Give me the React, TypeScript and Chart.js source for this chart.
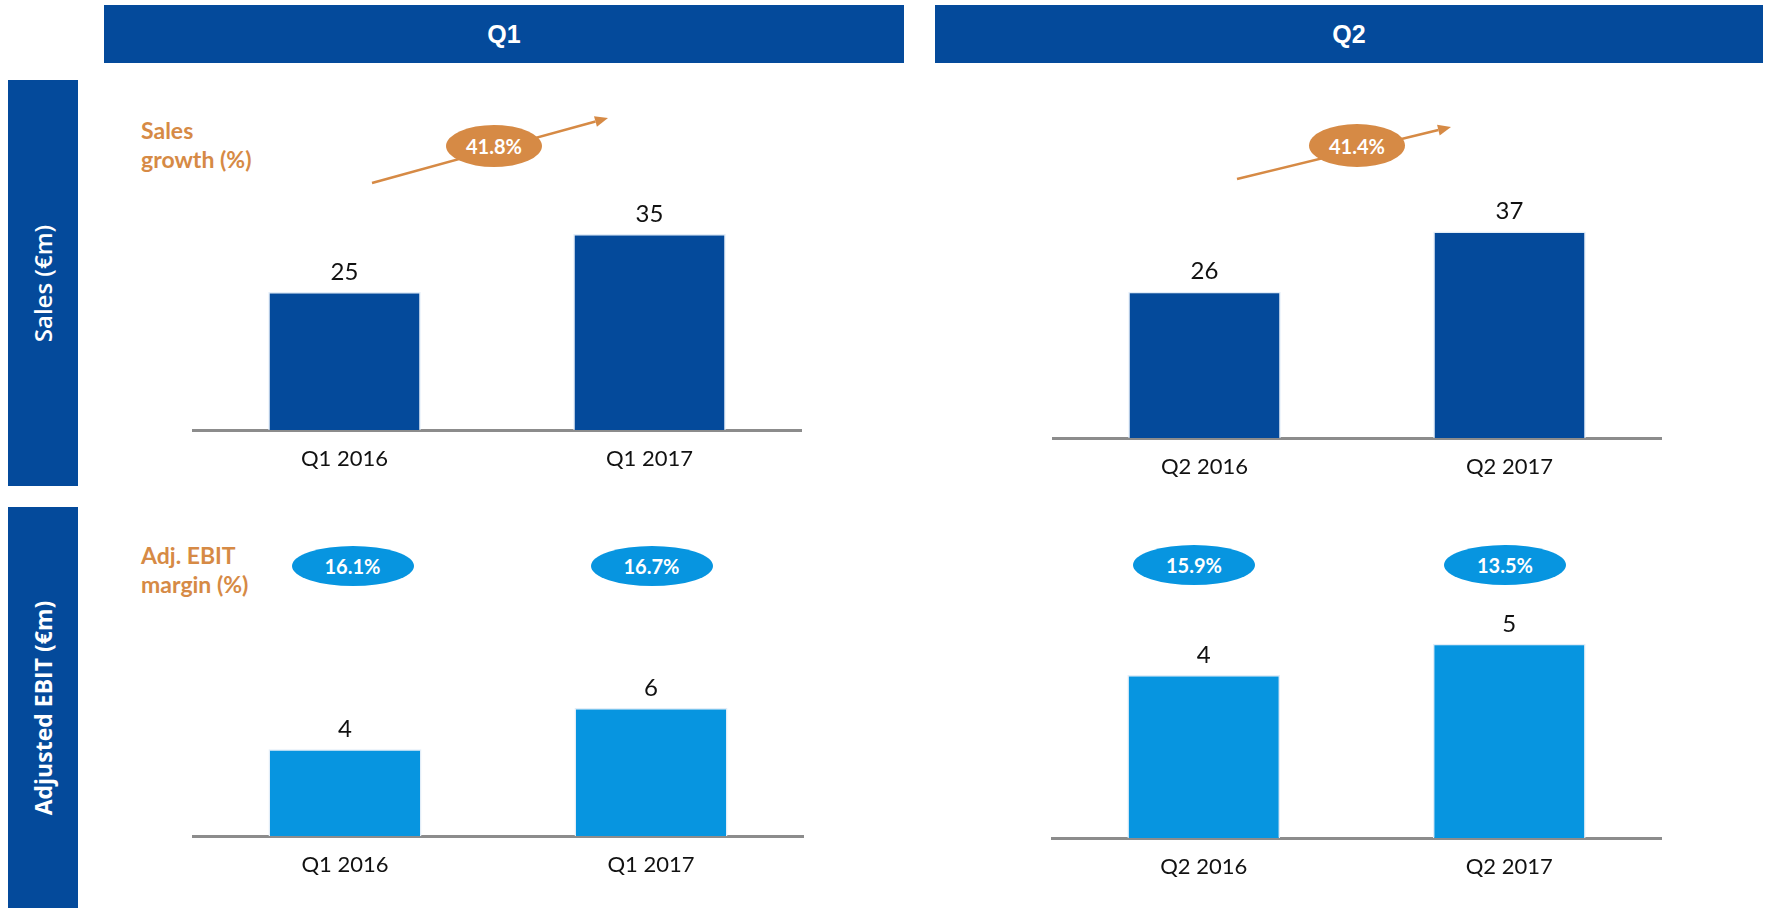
import React, { useEffect, useRef } from 'react';
import { Chart, registerables } from 'chart.js';
Chart.register(...registerables);

// ---- data ----
const quarterTitles = ['Q1', 'Q2'];
const rowTitles = ['Sales (€m)', 'Adjusted EBIT (€m)'];
const q1Categories = ['Q1 2016', 'Q1 2017'];
const q2Categories = ['Q2 2016', 'Q2 2017'];
const salesQ1 = [24.8, 35.2];
const salesQ2 = [26.2, 37.0];
const ebitQ1 = [4.0, 5.9];
const ebitQ2 = [4.2, 5.0];
const salesGrowth = ['41.8%', '41.4%'];
const ebitMarginQ1 = ['16.1%', '16.7%'];
const ebitMarginQ2 = ['15.9%', '13.5%'];
const salesNote = ['Sales', 'growth (%)'];
const ebitNote = ['Adj. EBIT', 'margin (%)'];

const DARK = '#044A9B';
const LIGHT = '#0795E0';
const ORANGE = '#D68A45';

const valueLabels = {
  id: 'valueLabels',
  afterDatasetsDraw(chart: any) {
    const ctx = chart.ctx;
    const meta = chart.getDatasetMeta(0);
    const data = chart.data.datasets[0].data as number[];
    ctx.save();
    ctx.font = '24px Lato';
    ctx.fillStyle = '#111111';
    ctx.textAlign = 'center';
    ctx.textBaseline = 'middle';
    meta.data.forEach((bar: any, i: number) => {
      ctx.fillText(String(Math.round(data[i])), bar.x, bar.y - 20);
    });
    ctx.restore();
  },
};

type PanelProps = {
  labels: string[];
  values: number[];
  color: string;
  yMax: number;
  left: number;
  top: number;
  width: number;
  areaHeight: number;
};

const AXIS_H = 50;

function BarPanel({ labels, values, color, yMax, left, top, width, areaHeight }: PanelProps) {
  const ref = useRef<HTMLCanvasElement | null>(null);
  useEffect(() => {
    if (!ref.current) return;
    const chart = new Chart(ref.current, {
      type: 'bar',
      data: {
        labels,
        datasets: [
          {
            data: values,
            backgroundColor: color,
            borderColor: '#E2EDF8',
            borderWidth: 1.5,
            borderSkipped: 'bottom',
            barPercentage: 0.5,
            categoryPercentage: 1,
          },
        ],
      },
      options: {
        responsive: false,
        maintainAspectRatio: false,
        animation: false,
        layout: { padding: 0 },
        plugins: { legend: { display: false }, tooltip: { enabled: false } },
        scales: {
          x: {
            grid: { display: false, drawTicks: false },
            border: { display: true, color: '#8C8C8C', width: 3 },
            ticks: { color: '#111111', font: { family: 'Lato', size: 22 }, padding: 16 },
            afterFit: (scale: any) => {
              scale.height = AXIS_H;
            },
          },
          y: { display: false, min: 0, max: yMax },
        },
      },
      plugins: [valueLabels],
    });
    return () => chart.destroy();
  }, []);
  return (
    <canvas
      ref={ref}
      width={width}
      height={areaHeight + AXIS_H}
      style={{ position: 'absolute', left, top, width, height: areaHeight + AXIS_H }}
    />
  );
}

function Ellipse({ cx, cy, w, h, color, text }: { cx: number; cy: number; w: number; h: number; color: string; text: string }) {
  return (
    <div
      style={{
        position: 'absolute',
        left: cx - w / 2,
        top: cy - h / 2,
        width: w,
        height: h,
        borderRadius: '50%',
        background: color,
        color: '#fff',
        display: 'flex',
        alignItems: 'center',
        justifyContent: 'center',
        font: 'bold 20px Lato',
      }}
    >
      {text}
    </div>
  );
}

function Arrow({ x1, y1, x2, y2 }: { x1: number; y1: number; x2: number; y2: number }) {
  const ang = Math.atan2(y2 - y1, x2 - x1);
  const L = 13;
  const W = 5.5;
  const bx = x2 - L * Math.cos(ang);
  const by = y2 - L * Math.sin(ang);
  const px = -Math.sin(ang) * W;
  const py = Math.cos(ang) * W;
  return (
    <g>
      <line x1={x1} y1={y1} x2={bx} y2={by} stroke={ORANGE} strokeWidth={2.5} />
      <polygon points={`${x2},${y2} ${bx + px},${by + py} ${bx - px},${by - py}`} fill={ORANGE} />
    </g>
  );
}

function Note({ lines, left, top }: { lines: string[]; left: number; top: number }) {
  return (
    <div
      style={{
        position: 'absolute',
        left,
        top,
        color: ORANGE,
        font: 'bold 23px Lato',
        lineHeight: '29px',
        whiteSpace: 'nowrap',
      }}
    >
      {lines.map((l, i) => (
        <div key={i}>{l}</div>
      ))}
    </div>
  );
}

function SideTitle({ text, top, height, size, weight }: { text: string; top: number; height: number; size: number; weight: number }) {
  return (
    <div
      style={{
        position: 'absolute',
        left: 8,
        top,
        width: 70,
        height,
        background: DARK,
        display: 'flex',
        alignItems: 'center',
        justifyContent: 'center',
      }}
    >
      <span
        style={{
          transform: 'rotate(-90deg)',
          whiteSpace: 'nowrap',
          color: '#fff',
          fontFamily: '"Open Sans", sans-serif',
          fontWeight: weight,
          fontSize: size,
        }}
      >
        {text}
      </span>
    </div>
  );
}

function Header({ text, left, width }: { text: string; left: number; width: number }) {
  return (
    <div
      style={{
        position: 'absolute',
        left,
        top: 5,
        width,
        height: 58,
        background: DARK,
        color: '#fff',
        display: 'flex',
        alignItems: 'center',
        justifyContent: 'center',
        font: 'bold 25px "Liberation Sans"',
      }}
    >
      {text}
    </div>
  );
}

export default function App() {
  return (
    <div
      style={{
        position: 'absolute',
        left: 0,
        top: 0,
        width: 1766,
        height: 908,
        overflow: 'hidden',
        background: '#ffffff',
      }}
    >
      <Header text={quarterTitles[0]} left={104} width={800} />
      <Header text={quarterTitles[1]} left={935} width={828} />
      <SideTitle text={rowTitles[0]} top={80} height={406} size={24} weight={600} />
      <SideTitle text={rowTitles[1]} top={507} height={401} size={23} weight={700} />

      <Note lines={salesNote} left={141} top={116} />
      <Note lines={ebitNote} left={141} top={541} />

      <BarPanel labels={q1Categories} values={salesQ1} color={DARK} yMax={60} left={192} top={96} width={610} areaHeight={334} />
      <BarPanel labels={q2Categories} values={salesQ2} color={DARK} yMax={60} left={1052} top={103} width={610} areaHeight={335} />
      <BarPanel labels={q1Categories} values={ebitQ1} color={LIGHT} yMax={10} left={192} top={619} width={612} areaHeight={217} />
      <BarPanel labels={q2Categories} values={ebitQ2} color={LIGHT} yMax={6} left={1051} top={605} width={611} areaHeight={233} />

      <svg width={1766} height={908} style={{ position: 'absolute', left: 0, top: 0, pointerEvents: 'none' }}>
        <Arrow x1={372} y1={183} x2={608} y2={118} />
        <Arrow x1={1237} y1={179} x2={1451} y2={127} />
      </svg>

      <Ellipse cx={494} cy={145.5} w={96} h={42} color={ORANGE} text={salesGrowth[0]} />
      <Ellipse cx={1357} cy={145.5} w={96} h={43} color={ORANGE} text={salesGrowth[1]} />
      <Ellipse cx={352.5} cy={565.5} w={122} h={40} color={LIGHT} text={ebitMarginQ1[0]} />
      <Ellipse cx={651.5} cy={565.5} w={122} h={40} color={LIGHT} text={ebitMarginQ1[1]} />
      <Ellipse cx={1194} cy={565} w={122} h={40} color={LIGHT} text={ebitMarginQ2[0]} />
      <Ellipse cx={1505} cy={565} w={122} h={40} color={LIGHT} text={ebitMarginQ2[1]} />
    </div>
  );
}
